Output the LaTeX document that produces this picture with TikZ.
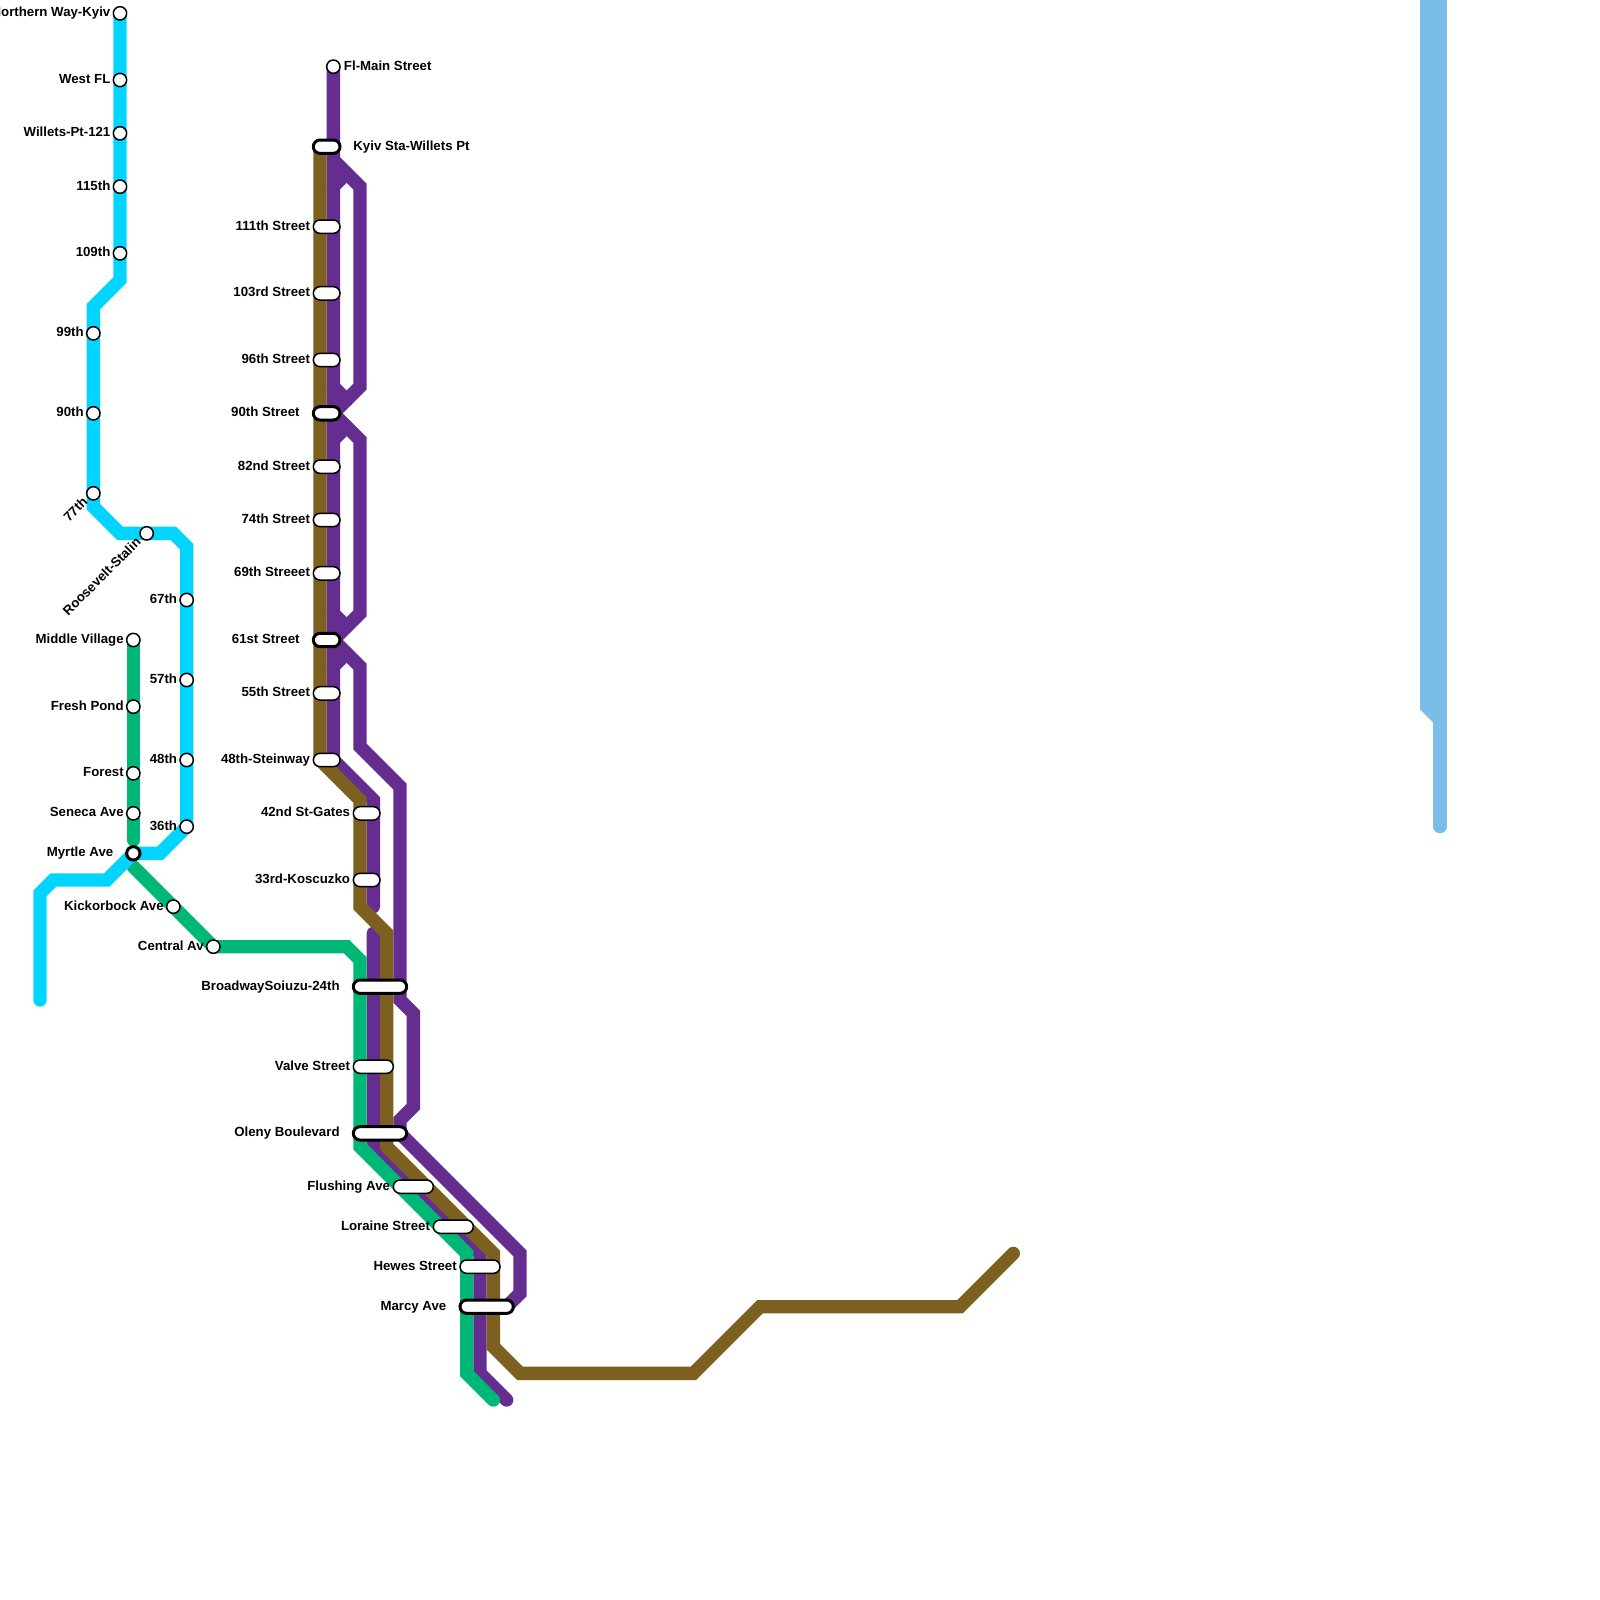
\documentclass[tikz,border=0pt]{standalone}
\usepackage{fontspec}
\setmainfont{Liberation Sans}
\usetikzlibrary{positioning, backgrounds, shapes.misc}
\definecolor{metrocyan}{HTML}{00D4FF}
\definecolor{metrogreen}{HTML}{00B875}
\definecolor{metropurple}{HTML}{662D91}
\definecolor{metrobrown}{HTML}{7D5F20}
\definecolor{metroblue}{HTML}{7ABDE8}

\begin{document}
\begin{tikzpicture}[
    x=0.4cm, y=-0.4cm,
    every node/.style={font=\fontsize{11.3}{13}\selectfont\bfseries},
    lab/.style={inner sep=0pt, text height=3mm, text depth=1mm},
    stn/.style={draw, circle, fill=white, minimum size=0.4cm, inner sep=0pt, line width=0.45mm},
    pill/.style={draw, fill=white, rounded rectangle, minimum width=#1, minimum height=0.4cm, inner sep=0pt, line width=0.45mm},
    xfer/.style={line width=0.9mm},
    ln/.style={line width=0.4cm, color=#1, line cap=round},
  ]
  \useasboundingbox (0,0) rectangle (120,120);
  \clip (0,0) rectangle (120,120);

  % cyan stations
  \node[stn] (northern) at (9,1) {};
  \node[lab, left=0.6mm of northern] (lnorthern) {Northern Way-Kyiv};
  \node[stn] (westfl) at (9,6) {};
  \node[lab, left=0.6mm of westfl] (lwestfl) {West FL};
  \node[stn] (willets) at (9,10) {};
  \node[lab, left=0.6mm of willets] (lwillets) {Willets-Pt-121};
  \node[stn] (c115) at (9,14) {};
  \node[lab, left=0.6mm of c115] (lc115) {115th};
  \node[stn] (c109) at (9,19) {};
  \node[lab, left=0.6mm of c109] (lc109) {109th};
  \node[stn] (c99) at (7,25) {};
  \node[lab, left=0.6mm of c99] (lc99) {99th};
  \node[stn] (c90) at (7,31) {};
  \node[lab, left=0.6mm of c90] (lc90) {90th};
  \node[stn] (c77) at (7,37) {};
  \node[lab, xshift=-0.6mm, yshift=-0.6mm, rotate=45, anchor=east] (lc77) at (c77.south west) {77th};
  \node[stn] (roosevelt) at (11,40) {};
  \node[lab, xshift=-0.6mm, yshift=-0.6mm, rotate=45, anchor=east] (lroosevelt) at (roosevelt.south west) {Roosevelt-Stalin};
  \node[stn] (c67) at (14,45) {};
  \node[lab, left=0.6mm of c67] (lc67) {67th};
  \node[stn] (c57) at (14,51) {};
  \node[lab, left=0.6mm of c57] (lc57) {57th};
  \node[stn] (c48) at (14,57) {};
  \node[lab, left=0.6mm of c48] (lc48) {48th};
  \node[stn] (c36) at (14,62) {};
  \node[lab, left=0.6mm of c36] (lc36) {36th};

  % green stations
  \node[stn] (middle) at (10,48) {};
  \node[lab, left=0.6mm of middle] (lmiddle) {Middle Village};
  \node[stn] (fresh) at (10,53) {};
  \node[lab, left=0.6mm of fresh] (lfresh) {Fresh Pond};
  \node[stn] (forest) at (10,58) {};
  \node[lab, left=0.6mm of forest] (lforest) {Forest};
  \node[stn] (seneca) at (10,61) {};
  \node[lab, left=0.6mm of seneca] (lseneca) {Seneca Ave};
  \node[stn, xfer] (myrtle) at (10,64) {};
  \node[lab, left=3.5mm of myrtle] (lmyrtle) {Myrtle Ave};
  \node[stn] (kick) at (13,68) {};
  \node[lab, left=0.6mm of kick] (lkick) {Kickorbock Ave};
  \node[stn] (central) at (16,71) {};
  \node[lab, left=0.6mm of central] (lcentral) {Central Av};

  % trunk stations
  \node[stn] (flmain) at (25,5) {};
  \node[lab, right=0.9mm of flmain] (lflmain) {Fl-Main Street};
  \node[pill=0.8cm, xfer] (kyiv) at (24.5,11) {};
  \node[lab, right=3.5mm of kyiv] (lkyiv) {Kyiv Sta-Willets Pt};
  \node[pill=0.8cm] (p111) at (24.5,17) {};
  \node[lab, left=0.7mm of p111] (lp111) {111th Street};
  \node[pill=0.8cm] (p103) at (24.5,22) {};
  \node[lab, left=0.7mm of p103] (lp103) {103rd Street};
  \node[pill=0.8cm] (p96) at (24.5,27) {};
  \node[lab, left=0.7mm of p96] (lp96) {96th Street};
  \node[pill=0.8cm, xfer] (p90) at (24.5,31) {};
  \node[lab, left=3.6mm of p90] (lp90) {90th Street};
  \node[pill=0.8cm] (p82) at (24.5,35) {};
  \node[lab, left=0.7mm of p82] (lp82) {82nd Street};
  \node[pill=0.8cm] (p74) at (24.5,39) {};
  \node[lab, left=0.7mm of p74] (lp74) {74th Street};
  \node[pill=0.8cm] (p69) at (24.5,43) {};
  \node[lab, left=0.7mm of p69] (lp69) {69th Streeet};
  \node[pill=0.8cm, xfer] (p61) at (24.5,48) {};
  \node[lab, left=3.6mm of p61] (lp61) {61st Street};
  \node[pill=0.8cm] (p55) at (24.5,52) {};
  \node[lab, left=0.7mm of p55] (lp55) {55th Street};
  \node[pill=0.8cm] (steinway) at (24.5,57) {};
  \node[lab, left=0.7mm of steinway] (lsteinway) {48th-Steinway};
  \node[pill=0.8cm] (gates) at (27.5,61) {};
  \node[lab, left=0.7mm of gates] (lgates) {42nd St-Gates};
  \node[pill=0.8cm] (koscuzko) at (27.5,66) {};
  \node[lab, left=0.7mm of koscuzko] (lkoscuzko) {33rd-Koscuzko};
  \node[pill=1.6cm, xfer] (broadway) at (28.5,74) {};
  \node[lab, left=3.6mm of broadway] (lbroadway) {BroadwaySoiuzu-24th};
  \node[pill=1.2cm] (valve) at (28,80) {};
  \node[lab, left=0.7mm of valve] (lvalve) {Valve Street};
  \node[pill=1.6cm, xfer] (oleny) at (28.5,85) {};
  \node[lab, left=3.6mm of oleny] (loleny) {Oleny Boulevard};
  \node[pill=1.2cm] (flushing) at (31,89) {};
  \node[lab, left=0.7mm of flushing] (lflushing) {Flushing Ave};
  \node[pill=1.2cm] (loraine) at (34,92) {};
  \node[lab, left=0.7mm of loraine] (lloraine) {Loraine Street};
  \node[pill=1.2cm] (hewes) at (36,95) {};
  \node[lab, left=0.7mm of hewes] (lhewes) {Hewes Street};
  \node[pill=1.6cm, xfer] (marcy) at (36.5,98) {};
  \node[lab, left=3.6mm of marcy] (lmarcy) {Marcy Ave};

  % free line ends
  \coordinate (cyanend) at (3,75);
  \coordinate (greenstart) at (10,65);
  \coordinate (greenend) at (37,105);
  \coordinate (purpleend) at (38,105);
  \coordinate (brownend) at (76,94);
  \coordinate (blueend) at (108,62);

  \begin{scope}[on background layer]
    \clip (0,0) rectangle (120,120);
    % river
    \draw[ln=metroblue] (107,-1) -- (107,53) -- (108,54);
    \draw[ln=metroblue] (108,-1) -- (blueend);
    % purple
    \draw[ln=metropurple] (flmain.center) -- (25,57) -- (28,60) -- (28,68);
    \draw[ln=metropurple] (25,12) -- (27,14) -- (27,29) -- (25,31) -- (27,33) -- (27,46) -- (25,48) -- (27,50)
      -- (27,56) -- (30,59) -- (30,75) -- (31,76) -- (31,83) -- (30,84) -- (30,85) -- (39,94) -- (39,97) -- (38,98);
    \draw[ln=metropurple] (28,70) -- (28,86) -- (36,94) -- (36,103) -- (purpleend);
    \draw[ln=metropurple] (25,14) -- (26,13);
    \draw[ln=metropurple] (25,29) -- (26,30);
    \draw[ln=metropurple] (25,33) -- (26,32);
    \draw[ln=metropurple] (25,46) -- (26,47);
    \draw[ln=metropurple] (25,50) -- (26,49);
    % green
    \draw[ln=metrogreen] (middle.center) -- (10,63);
    \draw[ln=metrogreen] (greenstart) -- (central.center) -- (26,71) -- (27,72) -- (27,86) -- (35,94) -- (35,103) -- (greenend);
    % cyan
    \draw[ln=metrocyan] (northern.center) -- (9,21) -- (7,23) -- (7,38) -- (9,40) -- (13,40) -- (14,41)
      -- (c36.center) -- (12,64) -- (myrtle.center) -- (8,66) -- (4,66) -- (3,67) -- (cyanend);
    % brown
    \draw[ln=metrobrown] (24,11) -- (24,57) -- (27,60) -- (27,68) -- (29,70) -- (29,86) -- (37,94) -- (37,101)
      -- (39,103) -- (52,103) -- (57,98) -- (72,98) -- (brownend);
  \end{scope}
\end{tikzpicture}
\end{document}
